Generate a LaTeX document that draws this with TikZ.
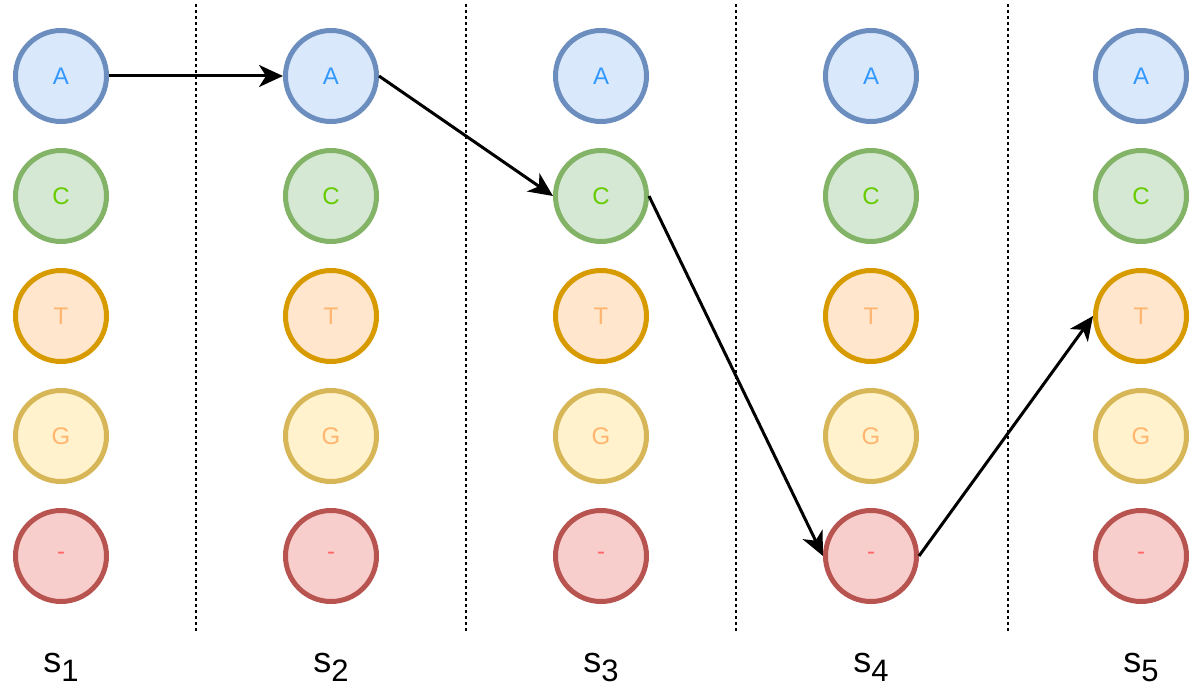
\documentclass[tikz,border=0pt]{standalone}
\usepackage{fontspec}
\setmainfont{Liberation Sans}
\usetikzlibrary{arrows.meta}

\definecolor{afill}{HTML}{DAE8FC}\definecolor{aline}{HTML}{6C8EBF}\definecolor{atext}{HTML}{3399FF}
\definecolor{cfill}{HTML}{D5E8D4}\definecolor{cline}{HTML}{82B366}\definecolor{ctext}{HTML}{66CC00}
\definecolor{tfill}{HTML}{FFE6CC}\definecolor{tline}{HTML}{D79B00}\definecolor{ttext}{HTML}{FFB570}
\definecolor{gfill}{HTML}{FFF2CC}\definecolor{gline}{HTML}{D6B656}\definecolor{gtext}{HTML}{FFB570}
\definecolor{dfill}{HTML}{F8CECC}\definecolor{dline}{HTML}{B85450}\definecolor{dtext}{HTML}{FF6666}

\tikzset{
  base/.style={circle,minimum size=91pt,inner sep=0pt,line width=5pt,
    font=\fontsize{24}{24}\selectfont},
  statA/.style={base,fill=afill,draw=aline,text=atext},
  statC/.style={base,fill=cfill,draw=cline,text=ctext},
  statT/.style={base,fill=tfill,draw=tline,text=ttext},
  statG/.style={base,fill=gfill,draw=gline,text=gtext},
  statD/.style={base,fill=dfill,draw=dline,text=dtext},
  path/.style={line width=3pt,-{Stealth[length=24pt,width=22pt,inset=7pt]}},
  sep/.style={line width=2pt,dash pattern=on 3pt off 3pt},
}

\begin{document}
\begin{tikzpicture}[x=1pt,y=-1pt]
\useasboundingbox (0,0) rectangle (1203,693);

% separators between the positions
\foreach \x in {196,466,736,1008}
  \draw[sep] (\x,4) -- (\x,632);

% one column of states per position
\foreach \i in {1,...,5} {
  \pgfmathsetmacro{\cx}{61+270*(\i-1)}
  \node[statA] (A\i) at (\cx,76) {A};
  \node[statC] (C\i) at (\cx,196) {C};
  \node[statT] (T\i) at (\cx,316) {T};
  \node[statG] (G\i) at (\cx,436) {G};
  \node[statD] (D\i) at (\cx,556) {-};
  \node[anchor=base,inner sep=0pt,font=\fontsize{36}{36}\selectfont] (s\i) at (\cx,672)
    {s\raisebox{-9pt}{\fontsize{31}{31}\selectfont\i}};
}

% the chosen path
\draw[path] (A1.east) -- (A2.west);
\draw[path] (A2.east) -- (C3.west);
\draw[path] (C3.east) -- (D4.west);
\draw[path] (D4.east) -- (T5.west);
\end{tikzpicture}
\end{document}
